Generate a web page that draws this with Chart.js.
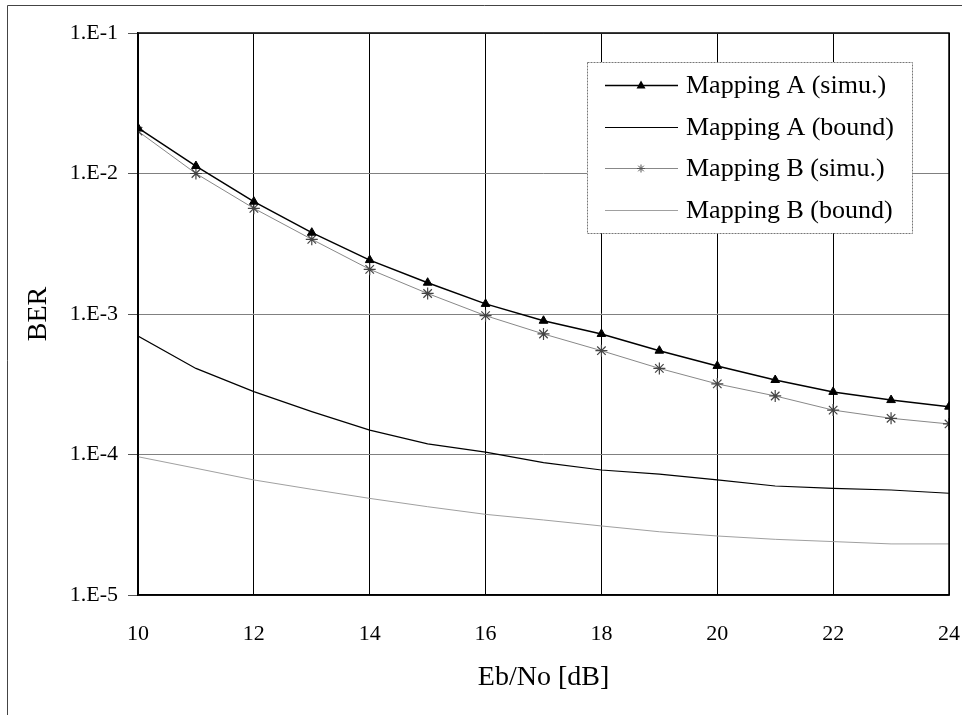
<!DOCTYPE html>
<html>
<head>
<meta charset="utf-8">
<script src="https://cdn.jsdelivr.net/npm/chart.js@4/dist/chart.umd.min.js"></script>
<style>
  html, body { margin: 0; padding: 0; background: #fff; }
  #wrap { width: 962px; height: 715px; }
</style>
</head>
<body>
<div id="wrap"><canvas id="ber-chart" width="962" height="715"></canvas></div>
<script>
const ebno = [10, 11, 12, 13, 14, 15, 16, 17, 18, 19, 20, 21, 22, 23, 24];
const mapASimu = [0.0211, 0.0113, 0.0063, 0.00379, 0.00242, 0.00167, 0.00118, 0.000895, 0.000721, 0.000548, 0.000427, 0.000339, 0.000279, 0.000244, 0.000219];
const mapABound = [0.000697, 0.00041, 0.00028, 0.000202, 0.000149, 0.000119, 0.000104, 0.0000875, 0.0000776, 0.0000726, 0.0000659, 0.0000597, 0.0000574, 0.0000559, 0.000053];
const mapBSimu = [0.0200, 0.0100, 0.00565, 0.0034, 0.00208, 0.0014, 0.000973, 0.000721, 0.000548, 0.00041, 0.000318, 0.000261, 0.000207, 0.000181, 0.000165];
const mapBBound = [0.0000964, 0.0000798, 0.0000659, 0.0000565, 0.0000487, 0.0000425, 0.0000375, 0.0000342, 0.000031, 0.0000282, 0.0000263, 0.0000249, 0.000024, 0.0000231, 0.0000231];
const seriesLabels = ['Mapping A (simu.)', 'Mapping A (bound)', 'Mapping B (simu.)', 'Mapping B (bound)'];
const yTicks = [1e-5, 1e-4, 1e-3, 1e-2, 1e-1];
const yTickLabels = ['1.E-5', '1.E-4', '1.E-3', '1.E-2', '1.E-1'];
const xTitle = 'Eb/No [dB]';
const yTitle = 'BER';

const serif = '"Liberation Serif", "Times New Roman", serif';

function toPoints(values) {
    return ebno.map((x, i) => ({ x: x, y: values[i] }));
}

// marcadores desenhados à mão para a legenda
function drawTriangle(ctx, x, y, r) {
    ctx.beginPath();
    ctx.moveTo(x, y - r);
    ctx.lineTo(x + r * 0.9, y + r * 0.6);
    ctx.lineTo(x - r * 0.9, y + r * 0.6);
    ctx.closePath();
    ctx.fillStyle = '#000';
    ctx.fill();
}

function drawStar(ctx, x, y, r) {
    ctx.beginPath();
    ctx.moveTo(x - r, y); ctx.lineTo(x + r, y);
    ctx.moveTo(x, y - r); ctx.lineTo(x, y + r);
    const d = r * 0.7;
    ctx.moveTo(x - d, y - d); ctx.lineTo(x + d, y + d);
    ctx.moveTo(x - d, y + d); ctx.lineTo(x + d, y - d);
    ctx.strokeStyle = '#555';
    ctx.lineWidth = 1;
    ctx.stroke();
}

const framePlugin = {
    id: 'frame',
    beforeDraw(chart) {
        const ctx = chart.ctx;
        ctx.save();
        ctx.fillStyle = '#fff';
        ctx.fillRect(0, 0, chart.width, chart.height);
        ctx.strokeStyle = '#444';
        ctx.lineWidth = 1;
        ctx.beginPath();
        ctx.moveTo(7.5, chart.height);
        ctx.lineTo(7.5, 5.5);
        ctx.lineTo(chart.width, 5.5);
        ctx.stroke();
        ctx.restore();
    },
    afterDraw(chart) {
        const ctx = chart.ctx;
        const a = chart.chartArea;
        ctx.save();
        ctx.strokeStyle = '#000';
        ctx.lineWidth = 1.5;
        ctx.strokeRect(a.left, a.top, a.right - a.left, a.bottom - a.top);

        // legenda dentro da área do gráfico
        const bx = 587, by = 62, bw = 325, bh = 171;
        ctx.fillStyle = '#fff';
        ctx.fillRect(bx, by, bw, bh);
        ctx.setLineDash([2, 1]);
        ctx.strokeStyle = '#777';
        ctx.lineWidth = 1;
        ctx.strokeRect(bx + 0.5, by + 0.5, bw, bh);
        ctx.setLineDash([]);

        const rows = [85, 127, 168, 210];
        ctx.font = '26px ' + serif;
        ctx.textBaseline = 'middle';
        ctx.textAlign = 'left';
        chart.data.datasets.forEach((ds, i) => {
            const y = rows[i] + 0.5;
            ctx.beginPath();
            ctx.moveTo(605, y);
            ctx.lineTo(678, y);
            ctx.strokeStyle = ds.borderColor;
            ctx.lineWidth = ds.borderWidth;
            ctx.stroke();
            if (i === 0) drawTriangle(ctx, 641, y, 5);
            if (i === 2) drawStar(ctx, 641, y, 4);
            ctx.fillStyle = '#000';
            ctx.fillText(seriesLabels[i], 686, rows[i] + 1);
        });
        ctx.restore();
    }
};

const ctx = document.getElementById('ber-chart').getContext('2d');
const berChart = new Chart(ctx, {
    type: 'line',
    data: {
        datasets: [{
            label: seriesLabels[0],
            data: toPoints(mapASimu),
            borderColor: '#000',
            backgroundColor: '#000',
            borderWidth: 1.5,
            pointStyle: 'triangle',
            pointRadius: 5,
            pointBorderWidth: 1
        }, {
            label: seriesLabels[1],
            data: toPoints(mapABound),
            borderColor: '#000',
            borderWidth: 1.2,
            pointRadius: 0
        }, {
            label: seriesLabels[2],
            data: toPoints(mapBSimu),
            borderColor: '#888',
            backgroundColor: '#444',
            borderWidth: 1,
            pointStyle: 'star',
            pointRadius: 6,
            pointBorderColor: '#444',
            pointBorderWidth: 1.2
        }, {
            label: seriesLabels[3],
            data: toPoints(mapBBound),
            borderColor: '#a0a0a0',
            borderWidth: 1,
            pointRadius: 0
        }]
    },
    options: {
        responsive: false,
        animation: false,
        layout: {
            padding: { left: 7, top: 33, right: 13, bottom: 0 }
        },
        plugins: {
            legend: { display: false },
            tooltip: { enabled: false }
        },
        scales: {
            x: {
                type: 'linear',
                min: 10,
                max: 24,
                ticks: {
                    stepSize: 2,
                    padding: 26,
                    color: '#000',
                    font: { family: serif, size: 22 }
                },
                grid: {
                    color: '#000',
                    lineWidth: 1,
                    drawTicks: false
                },
                border: { color: '#000', width: 1.5 },
                title: {
                    display: true,
                    text: xTitle,
                    color: '#000',
                    font: { family: serif, size: 28 },
                    padding: { top: 0, bottom: 21 }
                },
                afterFit(axis) {
                    axis.height = 120;
                    axis.paddingLeft = 0;
                    axis.paddingRight = 0;
                }
            },
            y: {
                type: 'logarithmic',
                min: 1e-5,
                max: 1e-1,
                afterBuildTicks(axis) {
                    axis.ticks = yTicks.map(v => ({ value: v }));
                },
                ticks: {
                    padding: 10,
                    color: '#000',
                    font: { family: serif, size: 22 },
                    callback: (value, index) => yTickLabels[index]
                },
                grid: {
                    color: '#808080',
                    lineWidth: 1,
                    tickLength: 10,
                    tickColor: '#555'
                },
                border: { color: '#000', width: 1.5 },
                title: {
                    display: true,
                    text: yTitle,
                    color: '#000',
                    font: { family: serif, size: 28 },
                    padding: { top: 15, bottom: 0 }
                },
                afterFit(axis) {
                    axis.width = 131;
                    axis.paddingTop = 0;
                    axis.paddingBottom = 0;
                }
            }
        }
    },
    plugins: [framePlugin]
});
</script>
</body>
</html>
